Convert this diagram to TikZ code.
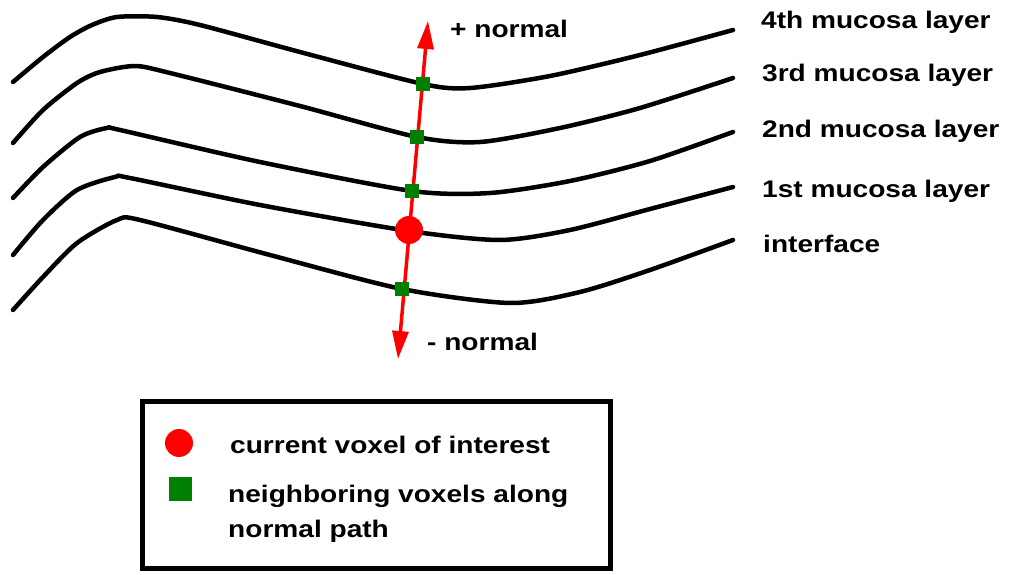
\documentclass[tikz,border=0pt]{standalone}
\usepackage{fontspec}
\setmainfont{Liberation Sans}[FakeStretch=1.17]
\usetikzlibrary{arrows.meta}
\tikzset{
  layer/.style={line width=4.5pt, line cap=round, line join=round},
  lbl/.style={inner sep=0pt, anchor=base west, font=\fontsize{24}{35}\selectfont\bfseries},
  nbr/.style={fill=green!50!black, minimum size=14pt, inner sep=0pt},
  cur/.style={circle, fill=red, minimum size=28pt, inner sep=0pt},
  normalarrow/.style={draw=red, line width=3.5pt, {Triangle[length=28pt,width=16pt]}-{Triangle[length=28pt,width=16pt]}},
}
\begin{document}
\begin{tikzpicture}[x=1pt,y=-1pt]
\useasboundingbox (0,0) rectangle (1013,575);
% mucosa layer curves
\draw[layer] plot[smooth, tension=0.45] coordinates {(13,82) (43,57) (70,37) (92,25) (117,17) (157,17) (200,25) (300,52) (423,84) (470,88) (550,76) (640,55) (733,30)};
\draw[layer] plot[smooth, tension=0.45] coordinates {(13,143) (43,110) (77,83) (100,72) (135,66) (170,73) (300,106) (417,137) (480,142) (560,128) (640,108) (733,78)};
\draw[layer] plot[smooth, tension=0.45] coordinates {(13,198) (43,167) (80,137) (107,128) (120,130) (260,162) (412,191) (490,193) (570,181) (650,161) (733,132)};
\draw[layer] plot[smooth, tension=0.45] coordinates {(13,255) (43,220) (77,190) (115,177) (130,178) (260,205) (409,231) (500,240) (570,230) (650,209) (733,187)};
\draw[layer] plot[smooth, tension=0.45] coordinates {(13,310) (43,277) (77,243) (117,220) (140,220) (270,255) (402,289) (510,303) (580,292) (650,270) (733,240)};
% normal arrow
\coordinate (ptop) at (428,21);
\coordinate (pbot) at (398,359);
\draw[normalarrow] (ptop) -- (pbot);
% voxels
\node[nbr] (v4) at (423,84) {};
\node[nbr] (v3) at (417,137) {};
\node[nbr] (v2) at (412,191) {};
\node[cur] (v1) at (409,230) {};
\node[nbr] (v0) at (402,289) {};
% labels
\node[lbl] (plus) at (450,38) {+ normal};
\node[lbl] (minus) at (427,350) {- normal};
\node[lbl] (l4) at (761,29) {4th mucosa layer};
\node[lbl] (l3) at (762,82) {3rd mucosa layer};
\node[lbl] (l2) at (762,138) {2nd mucosa layer};
\node[lbl] (l1) at (762,197) {1st mucosa layer};
\node[lbl] (l0) at (763,252) {interface};
% legend
\coordinate (lgA) at (142.5,401.5);
\coordinate (lgB) at (610.5,568);
\draw[line width=5pt] (lgA) rectangle (lgB);
\node[cur] (lgcur) at (179,443) {};
\node[nbr, minimum width=23pt, minimum height=24pt] (lgnbr) at (180,489) {};
\node[lbl] (lgt1) at (230,453) {current voxel of interest};
\node[lbl, align=left] (lgt2) at (228,537) {neighboring voxels along\\normal path};
\end{tikzpicture}
\end{document}
